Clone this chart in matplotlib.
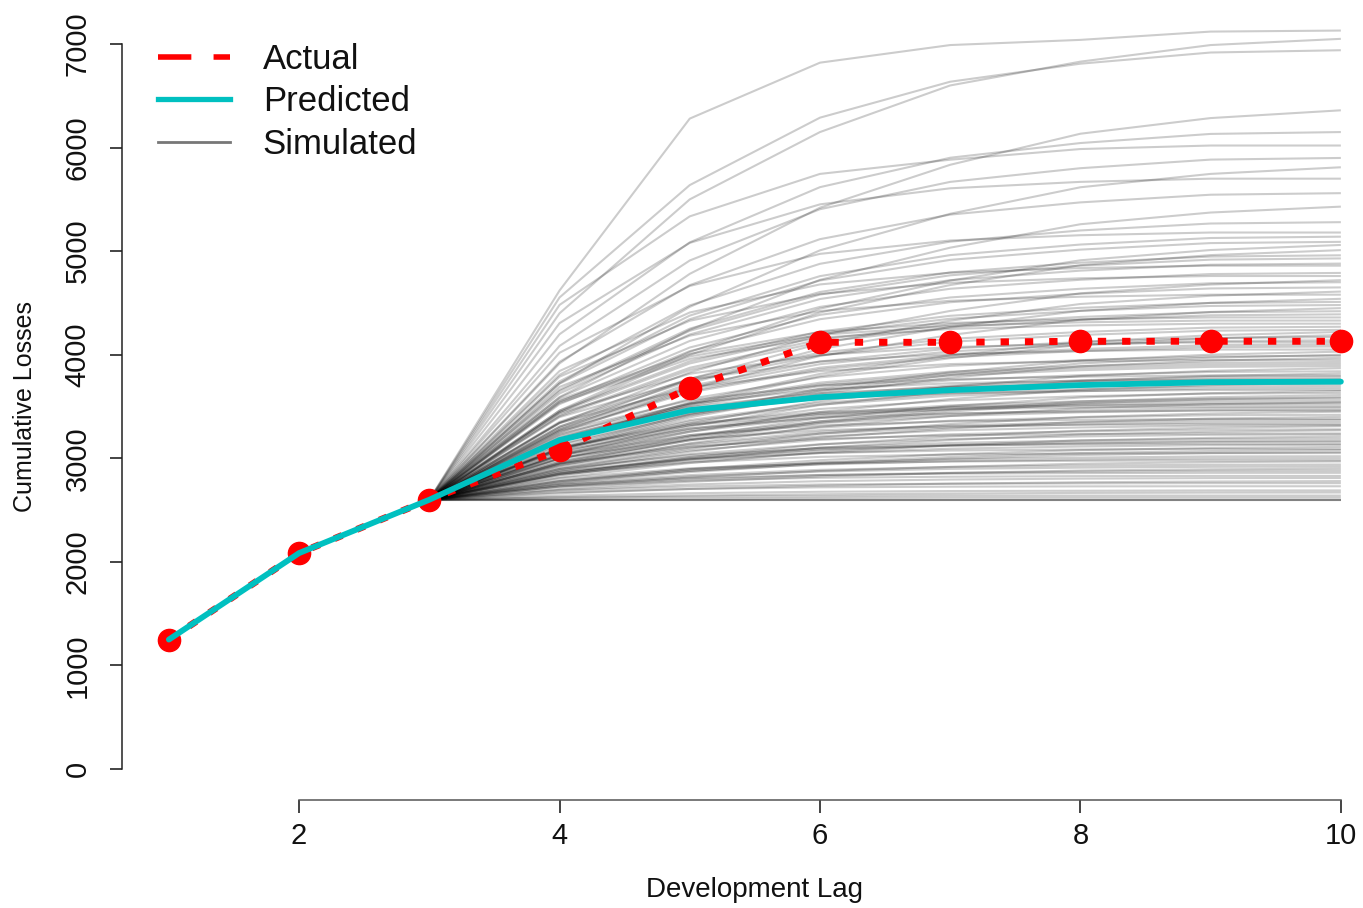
import matplotlib
matplotlib.use("Agg")
import matplotlib.pyplot as plt
from matplotlib.lines import Line2D

plt.rcParams['font.family'] = ['Liberation Sans', 'DejaVu Sans']

# ---------------- data ----------------
lags = [1, 2, 3, 4, 5, 6, 7, 8, 9, 10]
actual = [1250, 2085, 2600, 3080, 3680, 4120, 4120, 4130, 4130, 4130]
predicted = [1250, 2085, 2600, 3176, 3465, 3590, 3658, 3707, 3735, 3740]

sim_lags = [3, 4, 5, 6, 7, 8, 9, 10]
sim_start = 2600
# simulated cumulative losses at lags 4..10 (each path starts at sim_start at lag 3)
sim_paths = [
    [2600, 2600, 2600, 2600, 2600, 2600, 2600],
    [2600, 2600, 2600, 2600, 2600, 2600, 2600],
    [2600, 2600, 2600, 2600, 2600, 2600, 2600],
    [2620, 2630, 2635, 2640, 2640, 2640, 2640],
    [2640, 2663, 2677, 2684, 2687, 2690, 2690],
    [2672, 2704, 2720, 2726, 2729, 2730, 2730],
    [2663, 2704, 2735, 2755, 2769, 2776, 2780],
    [2695, 2747, 2779, 2795, 2804, 2809, 2810],
    [2743, 2808, 2839, 2852, 2857, 2860, 2860],
    [2705, 2774, 2825, 2858, 2882, 2894, 2900],
    [2753, 2838, 2889, 2916, 2930, 2938, 2940],
    [2809, 2904, 2950, 2969, 2976, 2980, 2980],
    [2789, 2894, 2957, 2991, 3007, 3018, 3020],
    [2761, 2867, 2945, 2996, 3032, 3051, 3060],
    [2870, 2992, 3051, 3075, 3085, 3090, 3090],
    [2839, 2971, 3051, 3093, 3114, 3127, 3130],
    [2856, 2999, 3085, 3130, 3153, 3167, 3170],
    [2814, 2954, 3058, 3125, 3173, 3198, 3210],
    [2952, 3112, 3189, 3221, 3234, 3240, 3240],
    [2906, 3076, 3178, 3232, 3260, 3277, 3280],
    [2849, 3012, 3133, 3211, 3267, 3296, 3310],
    [2938, 3125, 3238, 3298, 3328, 3346, 3350],
    [3029, 3224, 3318, 3357, 3372, 3380, 3380],
    [2969, 3174, 3297, 3363, 3395, 3416, 3420],
    [2898, 3093, 3238, 3331, 3399, 3433, 3450],
    [3001, 3223, 3357, 3428, 3463, 3486, 3490],
    [3106, 3336, 3446, 3492, 3511, 3520, 3520],
    [3032, 3272, 3416, 3493, 3531, 3555, 3560],
    [2947, 3174, 3343, 3451, 3531, 3570, 3590],
    [3064, 3321, 3476, 3558, 3599, 3625, 3630],
    [3183, 3448, 3575, 3628, 3649, 3660, 3660],
    [3095, 3370, 3535, 3623, 3667, 3694, 3700],
    [2996, 3255, 3448, 3572, 3662, 3707, 3730],
    [3127, 3419, 3595, 3688, 3735, 3764, 3770],
    [3260, 3560, 3704, 3764, 3788, 3800, 3800],
    [3158, 3468, 3654, 3753, 3803, 3834, 3840],
    [3045, 3337, 3553, 3692, 3794, 3845, 3870],
    [3190, 3517, 3714, 3818, 3871, 3903, 3910],
    [3343, 3680, 3842, 3910, 3937, 3950, 3950],
    [3226, 3573, 3782, 3893, 3948, 3983, 3990],
    [3101, 3429, 3673, 3830, 3944, 4001, 4030],
    [3266, 3636, 3858, 3976, 4036, 4073, 4080],
    [3436, 3816, 3998, 4074, 4105, 4120, 4120],
    [3307, 3699, 3935, 4060, 4123, 4162, 4170],
    [3167, 3540, 3815, 3993, 4123, 4188, 4220],
    [3352, 3769, 4020, 4153, 4220, 4262, 4270],
    [3552, 3984, 4192, 4279, 4313, 4330, 4330],
    [3406, 3853, 4122, 4265, 4336, 4381, 4390],
    [3248, 3673, 3988, 4191, 4339, 4413, 4450],
    [3460, 3937, 4224, 4376, 4453, 4500, 4510],
    [3689, 4184, 4422, 4521, 4560, 4580, 4580],
    [3523, 4035, 4343, 4507, 4589, 4640, 4650],
    [3342, 3830, 4190, 4423, 4593, 4678, 4720],
    [3586, 4133, 4462, 4637, 4724, 4779, 4790],
    [3843, 4408, 4679, 4792, 4837, 4860, 4860],
    [3649, 4231, 4581, 4767, 4860, 4918, 4930],
    [3444, 4000, 4408, 4673, 4865, 4962, 5010],
    [3721, 4343, 4717, 4916, 5015, 5078, 5090],
    [4019, 4664, 4974, 5103, 5154, 5180, 5180],
    [3806, 4476, 4878, 5092, 5200, 5267, 5280],
    [3591, 4241, 4723, 5034, 5260, 5373, 5430],
    [3932, 4672, 5116, 5353, 5471, 5545, 5560],
    [4305, 5080, 5452, 5607, 5669, 5700, 5700],
    [3724, 4462, 5008, 5361, 5617, 5746, 5810],
    [4085, 4910, 5405, 5669, 5801, 5884, 5900],
    [4481, 5336, 5746, 5883, 5986, 6020, 6020],
    [4198, 5085, 5618, 5902, 6044, 6132, 6150],
    [3916, 4781, 5420, 5834, 6134, 6285, 6360],
    [4553, 5638, 6289, 6636, 6810, 6918, 6940],
    [4620, 6280, 6820, 6990, 7040, 7120, 7130],
    [4400, 5500, 6150, 6600, 6830, 6990, 7050],
    [2605, 2612, 2617, 2620, 2620, 2620, 2620],
    [2688, 2728, 2747, 2755, 2758, 2760, 2760],
    [2744, 2824, 2872, 2898, 2910, 2918, 2920],
    [2779, 2896, 2982, 3039, 3079, 3100, 3110],
    [2866, 3013, 3102, 3149, 3172, 3187, 3190],
    [3002, 3184, 3272, 3309, 3323, 3330, 3330],
    [2992, 3209, 3340, 3409, 3444, 3466, 3470],
    [2954, 3186, 3358, 3469, 3549, 3590, 3610],
    [3086, 3356, 3518, 3604, 3648, 3675, 3680],
    [3238, 3528, 3667, 3725, 3748, 3760, 3760],
    [3181, 3503, 3697, 3800, 3851, 3883, 3890],
    [3090, 3412, 3650, 3804, 3916, 3972, 4000],
    [3293, 3678, 3909, 4032, 4094, 4132, 4140],
    [3535, 3960, 4164, 4249, 4283, 4300, 4300],
    [3446, 3916, 4198, 4348, 4424, 4471, 4480],
    [3304, 3766, 4108, 4329, 4490, 4570, 4610],
    [3626, 4196, 4538, 4720, 4812, 4869, 4880],
    [2848, 2960, 3014, 3037, 3046, 3050, 3050],
    [3023, 3258, 3399, 3474, 3512, 3535, 3540],
    [2625, 2641, 2653, 2660, 2666, 2669, 2670],
    [2727, 2784, 2812, 2822, 2828, 2830, 2830],
    [2730, 2815, 2878, 2918, 2948, 2963, 2970],
    [2780, 2880, 2940, 2972, 2988, 2998, 3000],
    [2768, 2878, 2960, 3013, 3051, 3070, 3080],
    [2897, 3032, 3097, 3124, 3135, 3140, 3140],
    [2884, 3041, 3136, 3186, 3211, 3227, 3230],
    [2835, 2989, 3103, 3176, 3230, 3257, 3270],
    [2947, 3139, 3255, 3316, 3347, 3366, 3370],
    [2880, 3064, 3200, 3288, 3352, 3384, 3400],
    [3095, 3320, 3428, 3473, 3491, 3500, 3500],
    [3041, 3286, 3433, 3511, 3551, 3575, 3580],
    [2968, 3209, 3388, 3503, 3587, 3629, 3650],
    [3216, 3496, 3630, 3686, 3709, 3720, 3720],
    [3136, 3433, 3612, 3703, 3754, 3784, 3790],
    [3027, 3308, 3515, 3649, 3747, 3796, 3820],
    [3199, 3531, 3731, 3837, 3890, 3923, 3930],
    [3080, 3395, 3628, 3778, 3888, 3943, 3970],
    [3398, 3760, 3934, 4007, 4036, 4050, 4050],
    [3275, 3650, 3875, 3995, 4055, 4093, 4100],
    [3157, 3522, 3793, 3967, 4095, 4158, 4190],
    [3338, 3748, 3994, 4125, 4191, 4232, 4240],
    [3568, 4008, 4219, 4307, 4342, 4360, 4360],
    [3419, 3874, 4147, 4293, 4365, 4411, 4420],
    [3279, 3725, 4055, 4268, 4424, 4501, 4540],
    [3545, 4070, 4385, 4553, 4637, 4690, 4700],
    [3788, 4328, 4587, 4695, 4738, 4760, 4760],
    [3662, 4252, 4606, 4795, 4889, 4948, 4960],
    [3461, 4027, 4445, 4716, 4912, 5011, 5060],
    [3743, 4378, 4759, 4962, 5064, 5127, 5140],
    [2852, 2992, 3076, 3121, 3143, 3157, 3160],
    [3073, 3288, 3391, 3434, 3451, 3460, 3460],
    [2929, 3145, 3305, 3408, 3484, 3522, 3540],
    [2726, 2796, 2838, 2860, 2872, 2879, 2880],
    [2924, 3104, 3212, 3270, 3298, 3316, 3320],
]

x_ticks = [2, 4, 6, 8, 10]
y_ticks = [0, 1000, 2000, 3000, 4000, 5000, 6000, 7000]

# ---------------- figure ----------------
W, H = 1363, 908
fig = plt.figure(figsize=(W / 100, H / 100), dpi=100)
ax = fig.add_axes([122 / W, 1 - 800 / H, 1 - 122 / W, 800 / H])
ax.set_xlim(0.64, 10.17)
ax.set_ylim(-299, 7425)

# simulated paths
for p in sim_paths:
    ax.plot(sim_lags, [sim_start] + p, color='black', alpha=0.2, lw=1.5,
            zorder=1, solid_capstyle='butt')

# actual
ax.plot(lags, actual, color='#FF0000', lw=5, dashes=(1.2, 2.3),
        dash_capstyle='butt', zorder=3)
ax.plot(lags, actual, linestyle='none', marker='o', markersize=16,
        markerfacecolor='#FF0000', markeredgecolor='#FF0000', zorder=4)
# predicted
ax.plot(lags, predicted, color='#00C0C0', lw=4.2, zorder=5,
        solid_capstyle='round')

# spines
for s in ['top', 'right']:
    ax.spines[s].set_visible(False)
ax.spines['left'].set_bounds(0, 7000)
ax.spines['bottom'].set_bounds(2, 10)
ax.spines['left'].set_linewidth(1.1)
ax.spines['bottom'].set_linewidth(1.1)
ax.spines['bottom'].set_color('#555555')
ax.spines['left'].set_color('#222222')

ax.set_xticks(x_ticks)
ax.set_xticklabels([str(v) for v in x_ticks])
ax.set_yticks(y_ticks)
ax.set_yticklabels([str(v) for v in y_ticks])
ax.tick_params(axis='both', length=9, width=1.1, labelsize=21, colors='#111111')
ax.tick_params(axis='y', pad=13)
ax.tick_params(axis='x', pad=7)
plt.setp(ax.get_yticklabels(), rotation=90, va='center')

fig.text(755 / W, 1 - 890 / H, 'Development Lag', ha='center', va='center',
         fontsize=20, color='#111111')
fig.text(25 / W, 1 - 407 / H, 'Cumulative Losses', ha='center', va='center',
         rotation=90, fontsize=18, color='#111111')

# legend
handles = [
    Line2D([], [], color='#FF0000', lw=4, dashes=(6, 4), dash_capstyle='butt'),
    Line2D([], [], color='#00C0C0', lw=3.8),
    Line2D([], [], color='#777777', lw=2),
]
leg = fig.legend(handles, ['Actual', 'Predicted', 'Simulated'],
                 loc='upper left', bbox_to_anchor=(158 / W, 1 - 43 / H),
                 bbox_transform=fig.transFigure, frameon=False,
                 fontsize=25, handlelength=2.07, handletextpad=0.95,
                 labelspacing=0.27, borderpad=0, borderaxespad=0)
for t in leg.get_texts():
    t.set_color('#111111')

fig.savefig('out.png', dpi=100)
